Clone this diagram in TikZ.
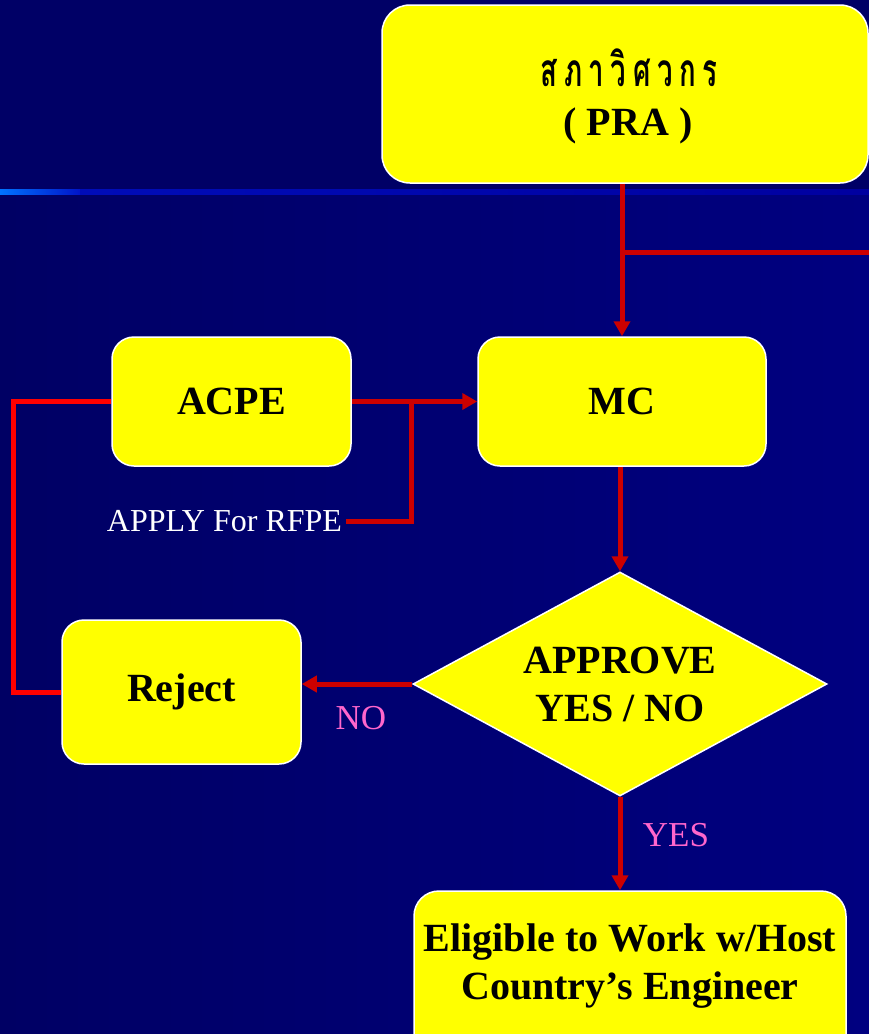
\documentclass[tikz,border=0pt]{standalone}
\usepackage{fontspec}
\setmainfont{Liberation Serif}
\newfontfamily\thaifont[Script=Thai]{Loma}
\usetikzlibrary{arrows.meta,shapes.geometric}
\definecolor{bgL}{RGB}{0,0,100}
\definecolor{bgR}{RGB}{0,0,128}
\definecolor{bgTop}{RGB}{0,0,102}
\definecolor{lineA}{RGB}{0,115,255}
\definecolor{lineB}{RGB}{0,20,200}
\definecolor{lineC}{RGB}{0,0,160}
\definecolor{dred}{RGB}{204,0,0}
\definecolor{bred}{RGB}{255,0,0}
\definecolor{boxy}{RGB}{255,255,0}
\definecolor{lblpink}{RGB}{255,102,204}
\newcommand{\thsp}{\hspace{11pt}}
\begin{document}
\begin{tikzpicture}[x=1pt,y=-1pt,
  box/.style={draw=white, line width=1.5pt, fill=boxy, rounded corners=22pt,
    font=\fontsize{40}{48}\selectfont\bfseries, align=center, inner sep=0pt},
  btext/.style={font=\fontsize{40}{48}\selectfont\bfseries, align=center, inner sep=0pt},
  arr/.style={draw=dred, line width=5pt, -{Triangle[length=15pt,width=16pt]}},
  redline/.style={draw=dred, line width=5pt},
  loopline/.style={draw=bred, line width=5pt},
  lbl/.style={text=lblpink, font=\fontsize{35}{40}\selectfont}]
\useasboundingbox (0,0) rectangle (869,1034);
% background
\fill[left color=bgL, right color=bgR] (0,0) rectangle (869,1034);
\fill[bgTop] (0,0) rectangle (869,189);
\fill[left color=lineA, right color=lineB] (0,189) rectangle (80,194);
\fill[left color=lineB!60!lineC, right color=lineC] (80,189) rectangle (869,194);
% nodes
\node[box, minimum width=486pt, minimum height=178pt, rounded corners=28pt] (pra) at (625,94) {};
\node[font=\thaifont\bfseries\fontsize{46}{52}\selectfont, inner sep=0pt] (thai) at (629,68)
  {\scalebox{0.6}[1]{ส\thsp ภ\thsp า\thsp วิ\thsp ศ\thsp ว\thsp ก\thsp ร}};
\node[btext] (pratxt) at (628,126) {( PRA )};
\node[box, minimum width=239pt, minimum height=129pt] (acpe) at (231.5,401.5) {ACPE};
\node[box, minimum width=288pt, minimum height=129pt] (mc) at (622,401.5) {MC};
\node[text=white, font=\fontsize{32}{36}\selectfont, inner sep=4pt] (apply) at (224.5,521) {APPLY For RFPE};
\node[diamond, draw=white, line width=1.5pt, fill=boxy, minimum width=414pt, minimum height=224pt,
  aspect=1.85, inner sep=0pt, align=center, font=\fontsize{40}{48}\selectfont\bfseries] (dia) at (620,684)
  {APPROVE\\YES / NO};
\node[box, minimum width=239pt, minimum height=144pt] (rej) at (181.5,692) {Reject};
\node[box, minimum width=432pt, minimum height=200pt, rounded corners=25pt] (elig) at (630,991) {};
\node[btext] (eligtxt) at (630,966) {Eligible to Work w/Host\\Country’s Engineer};
\node[lbl] (no) at (361,718) {NO};
\node[lbl] (yes) at (676,835) {YES};
% connectors
\coordinate (br) at (622,252);
\coordinate (rend) at (869,252);
\coordinate (join) at (411,401.5);
\draw[arr] (pra.south -| mc.north) -- (mc.north);
\draw[redline] (br) -- (rend);
\draw[arr] (acpe.east) -- (mc.west);
\draw[redline] (apply.east) -| (join);
\draw[arr] (mc.south -| dia.north) -- (dia.north);
\draw[arr] (dia.west) -- (dia.west -| rej.east);
\draw[loopline] (rej.west) -- ++(-48,0) |- (acpe.west);
\draw[arr] (dia.south) -- (dia.south |- elig.north);
\end{tikzpicture}
\end{document}
